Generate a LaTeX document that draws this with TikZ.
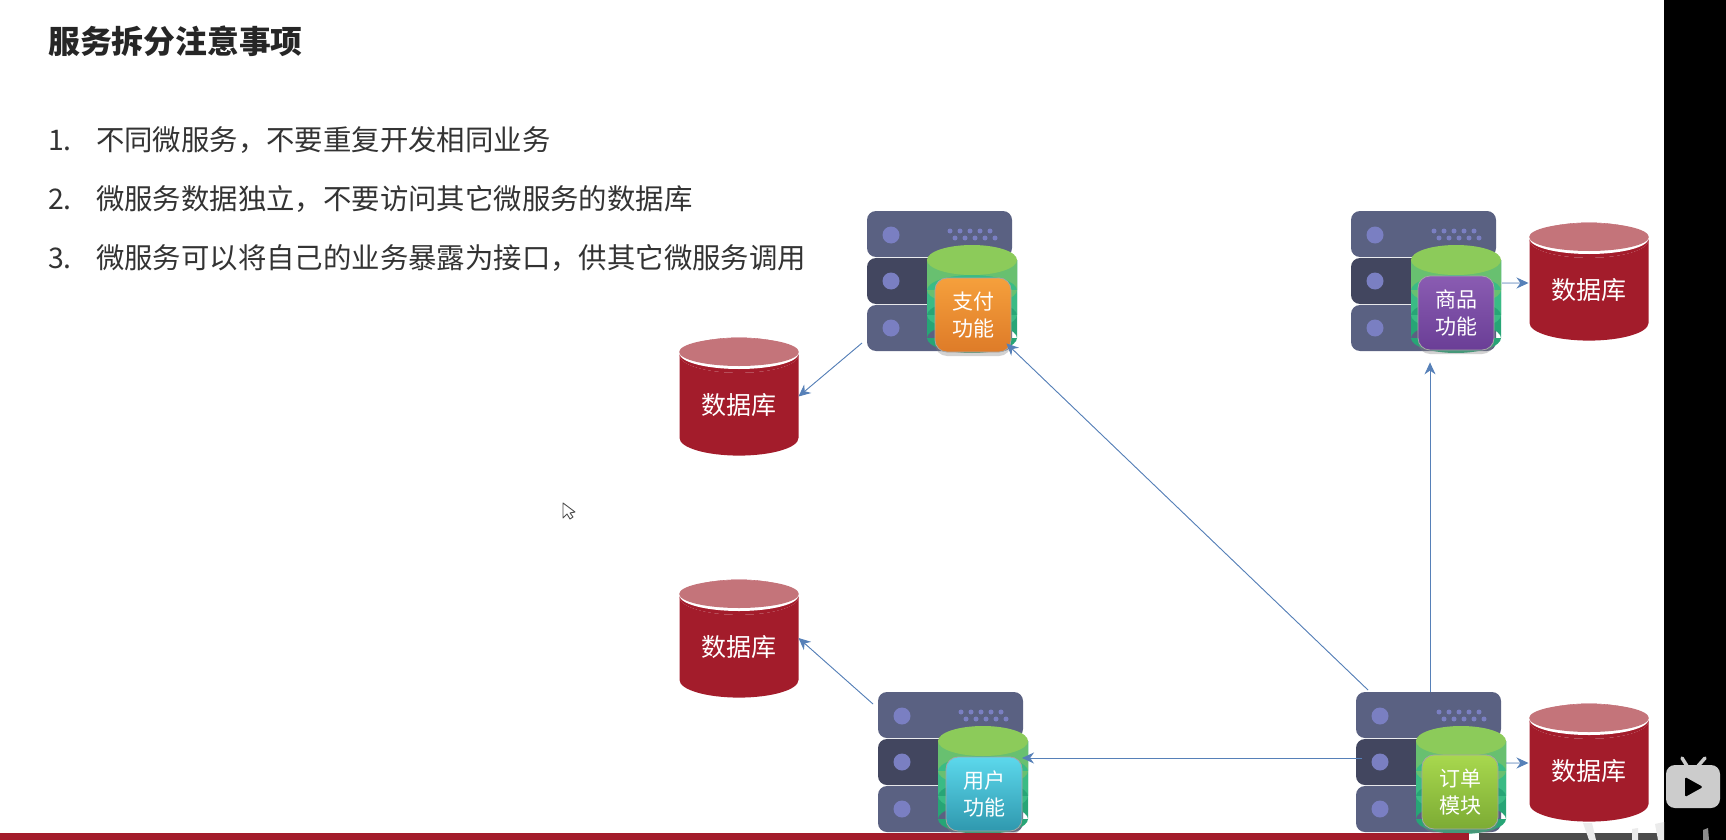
\documentclass[tikz,border=0pt]{standalone}
\usepackage{xcolor}
\usepackage{fontspec}
\setmainfont{Noto Sans CJK SC}
\usepackage{tikz}
\usetikzlibrary{arrows.meta, positioning, shapes.geometric, shadows}
\definecolor{rackblue}{HTML}{5A6182}
\definecolor{rackdark}{HTML}{42465F}
\definecolor{rackdot}{HTML}{7A7FC2}
\definecolor{cyltop}{HTML}{8CCB5A}
\definecolor{cylone}{HTML}{68C070}
\definecolor{cyltwo}{HTML}{3ABB85}
\definecolor{cylthree}{HTML}{27A576}
\definecolor{dbred}{HTML}{A31C2B}
\definecolor{dbpink}{HTML}{C4747A}
\definecolor{arrblue}{HTML}{5680B8}
\definecolor{barred}{HTML}{A31C2B}
\definecolor{paytop}{HTML}{F5A03C}
\definecolor{paylow}{HTML}{DE7B28}
\definecolor{goodstop}{HTML}{8A5CB2}
\definecolor{goodslow}{HTML}{6A3E96}
\definecolor{usertop}{HTML}{5CD8EC}
\definecolor{userlow}{HTML}{2F98AE}
\definecolor{ordertop}{HTML}{A8D84E}
\definecolor{orderlow}{HTML}{7CAB34}
\tikzset{
	x=1pt, y=-1pt,
	rack/.style={rectangle, rounded corners=9pt, minimum width=145pt, minimum height=46pt,
		inner sep=0pt, outer sep=0pt, anchor=north west},
	card/.style={rectangle, rounded corners=12pt, minimum width=76pt, minimum height=74pt,
		inner sep=0pt, align=center, text=white, font=\fontsize{21}{30}\selectfont,
		draw=black!35, line width=0.8pt,
		drop shadow={shadow xshift=0pt, shadow yshift=-4pt, opacity=0.35}},
	dbbody/.style={shape=cylinder, shape border rotate=90, aspect=0.47,
		cylinder uses custom fill, cylinder body fill=dbred, cylinder end fill=dbred,
		minimum width=119pt, minimum height=118pt, inner sep=0pt, outer sep=0pt,
		text=white, font=\fontsize{25}{30}\selectfont},
	arr/.style={-{Stealth[length=12pt, width=11pt]}, line width=0.9pt, draw=arrblue, fill=arrblue},
	lst/.style={anchor=west, inner sep=0pt, text height=24pt, text depth=6pt,
		text=black!80, font=\fontsize{28.4}{34}\selectfont},
}
\newcommand{\serverstack}[3]{
	\begin{scope}[shift={(#2,#3)}]
		\node[rack, fill=rackblue] (#1) at (0,0) {};
		\node[rack, fill=rackdark] (#1mid) at (0,47) {};
		\node[rack, fill=rackblue] (#1low) at (0,94) {};
		\fill[rackdot] (24,24) circle (8.5) (24,70) circle (8.5) (24,117) circle (8.5);
		\foreach \dotx in {83,93,103,113,123} {
			\fill[rackdot] (\dotx,20) circle (2.5) (\dotx+5,27) circle (2.5);
		}
		\fill[cylthree] (60,49) rectangle (150,127) (105,127) ellipse [x radius=45, y radius=15];
		\fill[cyltwo] (60,49) rectangle (150,104) (105,104) ellipse [x radius=45, y radius=15];
		\fill[cylone] (60,49) rectangle (150,79) (105,79) ellipse [x radius=45, y radius=15];
		\fill[cyltop] (105,49) ellipse [x radius=45, y radius=15];
	\end{scope}
}
\newcommand{\dbstack}[3]{
	\node[dbbody] (#1) at (#2,#3) {数据库};
	\fill[white] (#2,#3-52) ellipse [x radius=59.5, y radius=15.5];
	\fill[dbpink] (#2,#3-53.5) ellipse [x radius=59.8, y radius=14];
}

\begin{document}
\begin{tikzpicture}
	\useasboundingbox (0,0) rectangle (1726,840);
	\fill[white] (0,0) rectangle (1664,840);
	\fill[black] (1664,0) rectangle (1726,840);

	% slide text
	\node[anchor=west, inner sep=0pt, text=black!85, font=\fontsize{31.8}{38}\selectfont\bfseries] (title) at (48,41) {服务拆分注意事项};
	\node[lst] (li1) at (48,141) {\makebox[48pt][l]{1.}不同微服务，不要重复开发相同业务};
	\node[lst, below=29pt of li1.south west, anchor=north west] (li2) {\makebox[48pt][l]{2.}微服务数据独立，不要访问其它微服务的数据库};
	\node[lst, below=29pt of li2.south west, anchor=north west] (li3) {\makebox[48pt][l]{3.}微服务可以将自己的业务暴露为接口，供其它微服务调用};

	% servers
	\serverstack{srvpay}{867}{211}
	\serverstack{srvgoods}{1351}{211}
	\serverstack{srvuser}{878}{692}
	\serverstack{srvorder}{1356}{692}
	\node[card, top color=paytop, bottom color=paylow] (cardpay) at (973,315) {支付\\[-3pt]功能};
	\node[card, top color=goodstop, bottom color=goodslow] (cardgoods) at (1456,313) {商品\\[-3pt]功能};
	\node[card, top color=usertop, bottom color=userlow] (carduser) at (984,794) {用户\\[-3pt]功能};
	\node[card, top color=ordertop, bottom color=orderlow] (cardorder) at (1460,792) {订单\\[-3pt]模块};

	% databases
	\dbstack{dbpay}{739}{405.5}
	\dbstack{dbuser}{739}{647.5}
	\dbstack{dbgoods}{1589}{290.5}
	\dbstack{dborder}{1589}{771.5}

	% calls
	\draw[arr] ([xshift=-5pt, yshift=8pt]srvpaylow.south west) -- ([yshift=9pt]dbpay.east);
	\draw[arr] ([xshift=-5pt, yshift=11pt]srvuser.west) -- ([yshift=9.5pt]dbuser.east);
	\draw[arr] (srvorder.north west) ++(12pt,2pt) -- ([xshift=-5pt, yshift=9pt]cardpay.south east);
	\draw[arr] (srvorder.north west) ++(74pt,0pt) -- ([xshift=-26pt, yshift=-12pt]cardgoods.south);
	\draw[arr] ([xshift=6pt, yshift=4pt]srvordermid.west) -- ([xshift=-1pt, yshift=4pt]srvusermid.east);
	\draw[arr] ([xshift=6pt, yshift=-2pt]srvgoodsmid.east) -- ([xshift=-1pt, yshift=7.5pt]dbgoods.west);
	\draw[arr] ([xshift=5pt, yshift=-1pt]srvordermid.east) -- ([xshift=-1pt, yshift=8.5pt]dborder.west);

	% screen recording overlay
	\fill[barred] (0,833) rectangle (1469,840);
	\fill[black!70] (1479,833) rectangle (1664,840);
	\fill[black!8] (1583,823) -- (1592,823) -- (1596,840) -- (1589,840) -- cycle;
	\fill[black!8] (1632,829) -- (1638,828) -- (1638,840) -- (1632,840) -- cycle;
	\fill[black!8] (1655,824) -- (1664,822) -- (1664,840) -- (1658,840) -- cycle;
	\fill[black!45] (1703,830) -- (1708,828) -- (1709,840) -- (1703,840) -- cycle;
	\draw[black!70, fill=white, line width=0.9pt, line join=round] (563,503) -- (563,518) -- (567,514) -- (570,519) -- (573,517) -- (570,513) -- (575,512) -- cycle;
	\fill[black!20, rounded corners=9pt] (1666,765) rectangle (1720,808);
	\draw[black!20, line width=3.5pt, line cap=round] (1682,758) -- (1687,766) (1705,758) -- (1698,766);
	\fill[black, rounded corners=1.5pt] (1685,777) -- (1703,787) -- (1685,797) -- cycle;
\end{tikzpicture}
\end{document}
